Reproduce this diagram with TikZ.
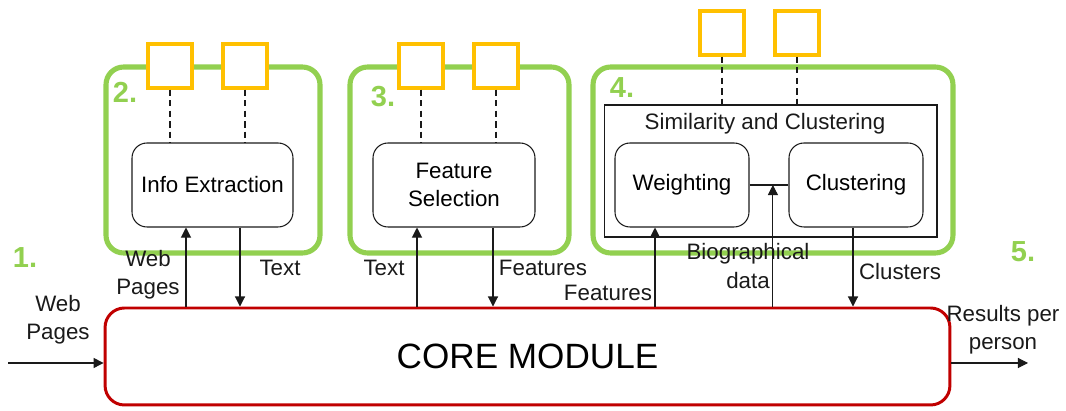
\documentclass[tikz,border=0pt]{standalone}
\usepackage{fontspec}
\setmainfont{Liberation Sans}
\usetikzlibrary{arrows.meta}
\definecolor{modgreen}{HTML}{92D050}
\definecolor{storeorange}{HTML}{FFC000}
\definecolor{corered}{HTML}{C00000}
\definecolor{linegray}{HTML}{1A1A1A}

\begin{document}
\begin{tikzpicture}[x=0.02cm, y=-0.02cm, >={Triangle[length=5.7pt,width=5.7pt]}, line width=0.6pt,
  module/.style={draw=modgreen, line width=2.9pt, rounded corners=10pt},
  store/.style={draw=storeorange, fill=white, line width=1.8pt, minimum size=0.88cm, inner sep=0pt},
  stepbox/.style={draw=linegray, rounded corners=8.5pt, minimum height=1.68cm, align=center,
    font=\fontsize{12.7}{16}\selectfont},
  lbl/.style={align=center, inner sep=0pt, font=\fontsize{12.7}{16}\selectfont, text=linegray},
  num/.style={inner sep=0pt, text=modgreen, font=\fontsize{16.5}{18}\selectfont\bfseries},
  link/.style={linegray, dash pattern=on 3.6pt off 2.4pt}]
  \useasboundingbox (0,0) rectangle (1066,411);

  % modules
  \node[module, minimum width=4.28cm, minimum height=3.72cm] (m2) at (213,160) {};
  \node[module, minimum width=4.38cm, minimum height=3.72cm] (m3) at (459.5,160) {};
  \node[module, minimum width=7.2cm, minimum height=3.72cm] (m4) at (773,160) {};
  \node[num] (n1) at (25,258) {1.};
  \node[num] (n2) at (125,92) {2.};
  \node[num] (n3) at (383,97) {3.};
  \node[num] (n4) at (622,88) {4.};
  \node[num] (n5) at (1023,252) {5.};

  % processing steps
  \node[stepbox, minimum width=3.22cm] (ie) at (212.5,185) {Info Extraction};
  \node[stepbox, minimum width=3.24cm] (fs) at (454,185) {Feature\\Selection};
  \node[draw=linegray, minimum width=6.66cm, minimum height=2.64cm] (sc) at (770.5,171) {};
  \node[lbl] (sct) at (765,124) {Similarity and Clustering};
  \node[stepbox, minimum width=2.68cm] (wt) at (682,185) {Weighting};
  \node[stepbox, minimum width=2.68cm] (cl) at (856,185) {Clustering};
  \draw[linegray] (wt) -- (cl);
  \path (wt.east) -- (cl.west) coordinate[pos=0.6] (bio);

  % resources
  \node[store] (s2a) at (170,66) {};
  \node[store] (s2b) at (245,66) {};
  \node[store] (s3a) at (421,66) {};
  \node[store] (s3b) at (496,66) {};
  \node[store] (s4a) at (722,33) {};
  \node[store] (s4b) at (797,33) {};
  \draw[link] (s2a.south) -- (s2a.south |- ie.north);
  \draw[link] (s2b.south) -- (s2b.south |- ie.north);
  \draw[link] (s3a.south) -- (s3a.south |- fs.north);
  \draw[link] (s3b.south) -- (s3b.south |- fs.north);
  \draw[link] (s4a.south) -- (s4a.south |- sc.north);
  \draw[link] (s4b.south) -- (s4b.south |- sc.north);

  % core
  \node[draw=corered, line width=1.7pt, rounded corners=11pt, minimum width=16.9cm, minimum height=1.94cm,
    font=\fontsize{20}{24}\selectfont] (core) at (527.5,356.5) {CORE MODULE};
  \coordinate (in) at (8,363);
  \coordinate (out) at (1028,363);

  % data flow
  \draw[->, linegray] (in) -- (core.west |- in);
  \draw[->, linegray] (core.east |- out) -- (out);
  \draw[->, linegray] (core.north -| 186,0) -- (ie.south -| 186,0);
  \draw[->, linegray] (ie.south -| 240,0) -- (core.north -| 240,0);
  \draw[->, linegray] (core.north -| 417,0) -- (fs.south -| 417,0);
  \draw[->, linegray] (fs.south -| 493,0) -- (core.north -| 493,0);
  \draw[->, linegray] (core.north -| 655,0) -- (wt.south -| 655,0);
  \draw[->, linegray] (core.north -| bio) -- (bio);
  \draw[->, linegray] (cl.south -| 853,0) -- (core.north -| 853,0);

  \node[lbl] (l1) at (58,320) {Web\\Pages};
  \node[lbl] (l2) at (148,275) {Web\\Pages};
  \node[lbl] (l3) at (280,268) {Text};
  \node[lbl] (l4) at (384,268) {Text};
  \node[lbl] (l5) at (543,268) {Features};
  \node[lbl] (l6) at (608,293) {Features};
  \node[lbl] (l7) at (748,266) {Biographical\\data};
  \node[lbl] (l8) at (900,272) {Clusters};
  \node[lbl] (l9) at (1003,330) {Results per\\person};
\end{tikzpicture}
\end{document}
